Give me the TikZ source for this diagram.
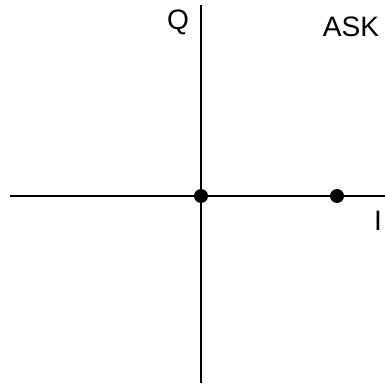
\documentclass[tikz,border=0pt]{standalone}
\usepackage{fontspec}
\setmainfont{Liberation Sans}
\usetikzlibrary{positioning}

\begin{document}
\begin{tikzpicture}[x=0.02cm, y=-0.02cm, every node/.style={font=\fontsize{16}{18}\selectfont},
  dot/.style={circle, fill=black, inner sep=0pt, minimum size=0.28cm}]
  \useasboundingbox (0,0) rectangle (385,385);
  \coordinate (qtop) at (201,5);
  \coordinate (qbot) at (201,383);
  \coordinate (ileft) at (10,196);
  \coordinate (iright) at (385,196);
  \draw[line width=0.6pt] (qtop) -- (qbot);
  \draw[line width=0.6pt] (ileft) -- (iright);
  \node[dot] (origin) at (201,196) {};
  \node[dot] (mark) at (337,196) {};
  \node (qlab) at (178,22) {Q};
  \node (ilab) at (378,221) {I};
  \node (ask) at (351,27) {ASK};
\end{tikzpicture}
\end{document}
